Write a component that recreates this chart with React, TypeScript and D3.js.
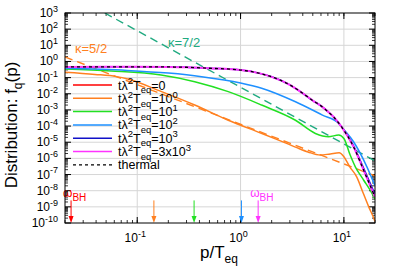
import React from "react";
import * as d3 from "d3";

// ---------- data ----------
const xDomain = [0.02, 20];
const yDomain = [1e-10, 1e3];
const xMajorExps = [-1, 0, 1];
const yMajorExps = [-10, -9, -8, -7, -6, -5, -4, -3, -2, -1, 0, 1, 2, 3];

const pThermal = [0.02, 0.05, 0.1, 0.2, 0.3, 0.5, 1, 1.5, 2, 3, 4, 5, 6, 7, 8, 9.5, 12.4, 15.5, 20];
const fThermal = [0.457, 0.468, 0.468, 0.457, 0.437, 0.38, 0.295, 0.19, 0.112, 0.0355, 0.0107, 0.0038, 0.00178, 7.9e-4, 3.5e-4, 8.9e-5, 5.2e-6, 1.9e-7, 4e-9];

const pT3000 = [0.02, 0.05, 0.1, 0.2, 0.3, 0.5, 1, 1.5, 2, 3, 4, 5, 6, 7, 8, 9.5, 12.4, 15.5, 20];
const fT3000 = [0.457, 0.468, 0.468, 0.457, 0.437, 0.38, 0.295, 0.19, 0.112, 0.0355, 0.0107, 0.0038, 0.00178, 7.9e-4, 3.5e-4, 8.9e-5, 5.2e-6, 1.9e-7, 4e-9];

const pT1000 = [0.02, 0.05, 0.1, 0.2, 0.3, 0.5, 1, 1.5, 2, 3, 4, 5, 6, 7, 8, 9.5, 12.4, 15.5, 20];
const fT1000 = [0.457, 0.468, 0.468, 0.457, 0.437, 0.38, 0.295, 0.19, 0.112, 0.0355, 0.0107, 0.0038, 0.00178, 7.9e-4, 3.5e-4, 8.9e-5, 6e-6, 2.5e-7, 6e-9];

const pT100 = [0.02, 0.08, 0.2, 0.42, 1.0, 1.6, 3.4, 6.2, 8.9, 9.6, 12.4, 16.7, 20];
const fT100 = [0.38, 0.28, 0.19, 0.115, 0.047, 0.022, 3.2e-3, 4.8e-4, 1.5e-4, 8.3e-5, 1.07e-5, 3e-7, 2e-8];

const pT10 = [0.02, 0.056, 0.17, 0.36, 0.76, 1.6, 3.4, 5.3, 7.1, 8.9, 10, 11.5, 12.9, 15.5, 18.7, 20];
const fT10 = [0.34, 0.257, 0.145, 0.056, 0.0135, 2e-3, 2.3e-4, 3.5e-5, 2.2e-5, 2.8e-5, 1.7e-5, 1.6e-6, 3e-7, 4.6e-8, 6.9e-9, 3e-9];

const pT1 = [0.02, 0.039, 0.063, 0.081, 0.172, 0.36, 0.76, 1.61, 2.3, 3.4, 4.5, 5.9, 7.4, 9.0, 10, 11.4, 13.3, 15.4, 17.4, 19.8, 20];
const fT1 = [0.214, 0.158, 0.115, 0.081, 0.0135, 2e-3, 2.3e-4, 3.5e-5, 1.4e-5, 5e-6, 2.5e-6, 1.6e-6, 1.9e-6, 2.2e-6, 1.26e-6, 3e-7, 7.2e-8, 6.9e-9, 1e-9, 1.5e-10, 1.26e-10];

const pT0: number[] = [];
const fT0: number[] = [];

const pKappa52 = [0.02, 20];
const fKappa52 = [1.9, 8.3e-8];
const pKappa72 = [0.0485, 20];
const fKappa72 = [1000, 7e-7];

const arrowP = [0.0229, 0.145, 0.355, 1.02, 1.48];
const arrowColors = ["#ff0000", "#ff8020", "#22e022", "#1e90ff", "#ff33ff"];
const arrowLabeled = [true, false, false, false, true];
const arrowTop = 2.5e-9;

const legendValues = ["0", "10|0", "10|1", "10|2", "10|3", "3x10|3"];
const legendColors = ["#ff0000", "#ff8020", "#22e022", "#1e90ff", "#1010c8", "#ff33ff"];

const FONT = "'Liberation Sans', Arial, Helvetica, sans-serif";

// ---------- layout ----------
const W = 399, H = 279;
const L = 65, R = 375, T = 13, B = 223;

const x = d3.scaleLog().domain(xDomain).range([L, R]);
const y = d3.scaleLog().domain(yDomain).range([B, T]);

const lineGen = d3
  .line<[number, number]>()
  .x((d) => x(d[0]))
  .y((d) => y(d[1]))
  .curve(d3.curveMonotoneX);

function path(ps: number[], fs: number[]) {
  return lineGen(ps.map((p, i) => [p, fs[i]] as [number, number])) || "";
}

type Seg = [string, "n" | "sup" | "sub"];
function Rich({ segs, size, small }: { segs: Seg[]; size: number; small: number }) {
  let cur = 0;
  const out: React.ReactNode[] = [];
  segs.forEach(([t, k], i) => {
    const target = k === "sup" ? -size * 0.42 : k === "sub" ? size * 0.3 : 0;
    const dy = target - cur;
    cur = target;
    out.push(
      <tspan key={i} dy={dy} fontSize={k === "n" ? size : small}>
        {t}
      </tspan>
    );
  });
  return <>{out}</>;
}

export default function App() {
  const xMinor: number[] = [];
  for (let e = -2; e <= 1; e++) for (let m = 1; m <= 9; m++) {
    const v = m * Math.pow(10, e);
    if (v >= xDomain[0] && v <= xDomain[1]) xMinor.push(v);
  }
  const yMinor: number[] = [];
  for (let e = -10; e < 3; e++) for (let m = 2; m <= 9; m++) yMinor.push(m * Math.pow(10, e));

  const curves = [
    { p: pT0, f: fT0, c: "#ff0000", w: 1.5 },
    { p: pT1, f: fT1, c: "#ff8020", w: 1.5 },
    { p: pT10, f: fT10, c: "#22e022", w: 1.5 },
    { p: pT100, f: fT100, c: "#1e90ff", w: 1.5 },
    { p: pT1000, f: fT1000, c: "#1010c8", w: 1.5 },
    { p: pT3000, f: fT3000, c: "#ff33ff", w: 2 },
  ];

  const legY0 = 85, legStep = 13.3;

  return (
    <svg width={W} height={H} style={{ position: "absolute", left: 0, top: 0, background: "#fff" }} fontFamily={FONT}>
      <defs>
        <clipPath id="plot">
          <rect x={L} y={T} width={R - L} height={B - T} />
        </clipPath>
      </defs>
      <rect x={0} y={0} width={W} height={H} fill="#fff" />
      {/* grid */}
      {yMajorExps.filter((e) => e > -10 && e < 3).map((e) => (
        <line key={"gy" + e} x1={L} x2={R} y1={y(Math.pow(10, e))} y2={y(Math.pow(10, e))} stroke="#d6d6d6" strokeWidth={1} />
      ))}
      {xMajorExps.map((e) => (
        <line key={"gx" + e} y1={T} y2={B} x1={x(Math.pow(10, e))} x2={x(Math.pow(10, e))} stroke="#d6d6d6" strokeWidth={1} />
      ))}
      {/* ticks */}
      {yMajorExps.map((e) => {
        const yy = y(Math.pow(10, e));
        return (
          <g key={"ty" + e}>
            <line x1={L} x2={L + 6} y1={yy} y2={yy} stroke="#000" />
            <line x1={R} x2={R - 6} y1={yy} y2={yy} stroke="#000" />
            <text x={58} y={yy + 4} textAnchor="end" fontSize={12} fill="#000">
              <Rich segs={[["10", "n"], [String(e), "sup"]]} size={12} small={9} />
            </text>
          </g>
        );
      })}
      {yMinor.map((v, i) => (
        <g key={"my" + i}>
          <line x1={L} x2={L + 3} y1={y(v)} y2={y(v)} stroke="#000" strokeWidth={0.8} />
          <line x1={R} x2={R - 3} y1={y(v)} y2={y(v)} stroke="#000" strokeWidth={0.8} />
        </g>
      ))}
      {xMinor.map((v, i) => (
        <g key={"mx" + i}>
          <line y1={B} y2={B - 3} x1={x(v)} x2={x(v)} stroke="#000" strokeWidth={0.8} />
          <line y1={T} y2={T + 3} x1={x(v)} x2={x(v)} stroke="#000" strokeWidth={0.8} />
        </g>
      ))}
      {xMajorExps.map((e) => {
        const xx = x(Math.pow(10, e));
        return (
          <g key={"tx" + e}>
            <line y1={B} y2={B - 6} x1={xx} x2={xx} stroke="#000" />
            <line y1={T} y2={T + 6} x1={xx} x2={xx} stroke="#000" />
            <text x={xx - 2} y={242} textAnchor="middle" fontSize={12} fill="#000">
              <Rich segs={[["10", "n"], [String(e), "sup"]]} size={12} small={9} />
            </text>
          </g>
        );
      })}

      <g clipPath="url(#plot)">
        {/* power law guides */}
        <path d={path(pKappa72, fKappa72)} fill="none" stroke="#20aa80" strokeWidth={1.4} strokeDasharray="8,5" />
        <path d={path(pKappa52, fKappa52)} fill="none" stroke="#ff8020" strokeWidth={1.4} strokeDasharray="8,5" />
        {curves.map((c, i) =>
          c.p.length ? <path key={i} d={path(c.p, c.f)} fill="none" stroke={c.c} strokeWidth={c.w} /> : null
        )}
        <path d={path(pThermal, fThermal)} fill="none" stroke="#000" strokeWidth={1.3} strokeDasharray="3,3" />
        {/* arrows */}
        {arrowP.map((p, i) => {
          const xx = x(p);
          const y0 = y(arrowTop);
          return (
            <g key={"ar" + i}>
              <line x1={xx} x2={xx} y1={y0} y2={B - 4} stroke={arrowColors[i]} strokeWidth={1} />
              <path d={`M${xx - 2.5},${B - 7} L${xx + 2.5},${B - 7} L${xx},${B} Z`} fill={arrowColors[i]} />
            </g>
          );
        })}
      </g>
      {arrowP.map((p, i) =>
        arrowLabeled[i] ? (
          <text key={"al" + i} x={x(p) - 8} y={197} fontSize={12} fill={arrowColors[i]}>
            <Rich segs={[["ω", "n"], ["BH", "sub"]]} size={12} small={10} />
          </text>
        ) : null
      )}

      {/* kappa labels */}
      <text x={75} y={53} fontSize={13} fill="#ff8020">κ=5/2</text>
      <text x={168} y={47} fontSize={13} fill="#20aa80">κ=7/2</text>

      {/* legend */}
      {legendValues.map((v, i) => {
        const yy = legY0 + i * legStep;
        const [base, exp] = v.split("|");
        const segs: Seg[] = [["tλ", "n"], ["2", "sup"], ["T", "n"], ["eq", "sub"], ["=" + base, "n"]];
        if (exp !== undefined) segs.push([exp, "sup"]);
        return (
          <g key={"lg" + i}>
            <line x1={73} x2={112} y1={yy} y2={yy} stroke={legendColors[i]} strokeWidth={1.5} />
            <text x={118} y={yy + 4.5} fontSize={12.5} fill="#000">
              <Rich segs={segs} size={12.5} small={9.5} />
            </text>
          </g>
        );
      })}
      <line x1={73} x2={112} y1={legY0 + 6 * legStep} y2={legY0 + 6 * legStep} stroke="#000" strokeWidth={1.3} strokeDasharray="3,3" />
      <text x={118} y={legY0 + 6 * legStep + 4.5} fontSize={12.5} fill="#000">thermal</text>

      {/* border */}
      <rect x={L} y={T} width={R - L} height={B - T} fill="none" stroke="#000" strokeWidth={1} />

      {/* axis labels */}
      <text x={200} y={258} fontSize={17} fill="#000">
        <Rich segs={[["p/T", "n"], ["eq", "sub"]]} size={17} small={12} />
      </text>
      <text transform={`translate(17,${125}) rotate(-90)`} textAnchor="middle" fontSize={17} fill="#000">
        <Rich segs={[["Distribution: f", "n"], ["q", "sub"], ["(p)", "n"]]} size={17} small={12} />
      </text>
    </svg>
  );
}
